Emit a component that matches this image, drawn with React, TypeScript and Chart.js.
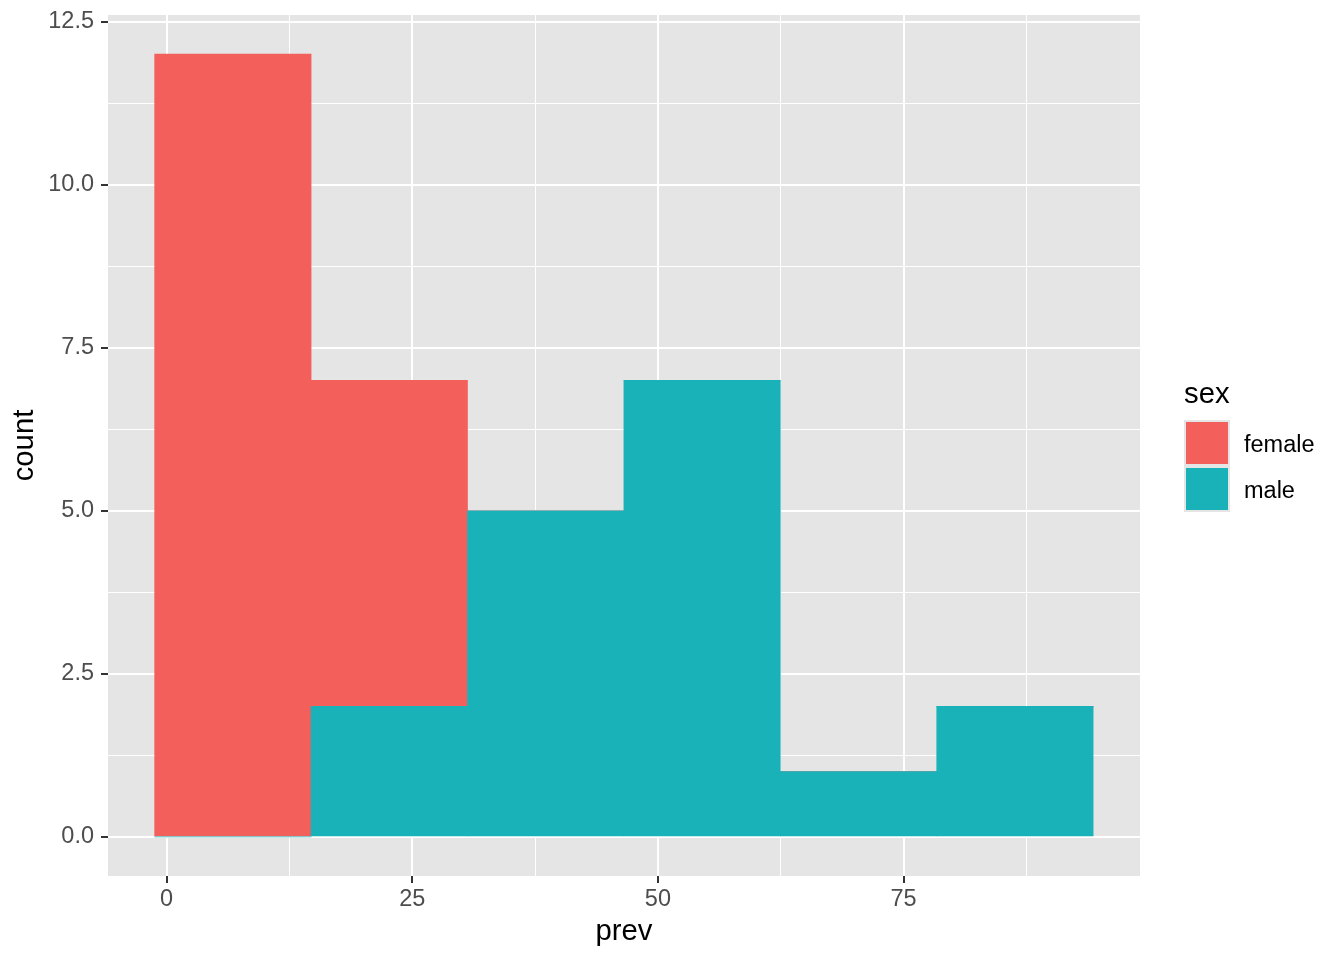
import React, { useEffect, useRef } from "react";
import { Chart, registerables } from "chart.js";

Chart.register(...registerables);

// Histogram of "prev" by sex (stacked counts)
const binCenters = [6.74, 22.66, 38.58, 54.5, 70.42, 86.34];
const femaleCounts = [12, 5, 0, 0, 0, 0];
const maleCounts = [0, 2, 5, 7, 1, 2];
const seriesNames = ["female", "male"];
const xTickValues = [0, 12.5, 25, 37.5, 50, 62.5, 75, 87.5];
const yTickValues = [0, 1.25, 2.5, 3.75, 5, 6.25, 7.5, 8.75, 10, 11.25, 12.5];

const FEMALE = "#F35F5A";
const MALE = "#19B2B8";
const PANEL = "#E5E5E5";
const TICK_TEXT = "#4D4D4D";
const FONT = "'Liberation Sans', Arial, Helvetica, sans-serif";

const isMajorX = (v: number) => Math.abs(v % 25) < 1e-9;
const isMajorY = (v: number) => Math.abs(v % 2.5) < 1e-9;
const tickVal = (c: any) => (c && c.tick ? Number(c.tick.value) : NaN);

const ggPlugin = {
  id: "ggDecor",
  beforeDraw(chart: any) {
    const { ctx, chartArea } = chart;
    ctx.save();
    ctx.fillStyle = "#FFFFFF";
    ctx.fillRect(0, 0, chart.width, chart.height);
    ctx.fillStyle = PANEL;
    ctx.fillRect(chartArea.left, chartArea.top, chartArea.right - chartArea.left, chartArea.bottom - chartArea.top);
    ctx.restore();
  },
  afterDraw(chart: any) {
    const { ctx, chartArea } = chart;
    ctx.save();
    ctx.fillStyle = "#000000";
    ctx.font = `29.3px ${FONT}`;
    ctx.textAlign = "center";
    ctx.textBaseline = "alphabetic";
    ctx.fillText("prev", (chartArea.left + chartArea.right) / 2, 940);
    ctx.save();
    ctx.translate(33, (chartArea.top + chartArea.bottom) / 2);
    ctx.rotate(-Math.PI / 2);
    ctx.fillText("count", 0, 0);
    ctx.restore();
    ctx.textAlign = "left";
    ctx.fillText("sex", 1184, 403);
    const colors = [FEMALE, MALE];
    ctx.fillStyle = PANEL;
    ctx.fillRect(1184, 420, 46, 92);
    seriesNames.forEach((name, i) => {
      const top = 420 + i * 46;
      ctx.fillStyle = colors[i];
      ctx.fillRect(1186, top + 2, 42, 42);
      ctx.fillStyle = "#000000";
      ctx.font = `23.5px ${FONT}`;
      ctx.fillText(name, 1244, 452 + i * 46);
    });
    ctx.restore();
  },
};

export default function App() {
  const ref = useRef<HTMLCanvasElement | null>(null);
  useEffect(() => {
    if (!ref.current) return;
    const barStyle = {
      borderWidth: 0,
      barPercentage: 1,
      categoryPercentage: 1,
      barThickness: "flex",
    };
    const chart = new Chart(ref.current, {
      type: "bar",
      data: {
        datasets: [
          {
            label: seriesNames[1],
            data: binCenters.map((x, i) => ({ x, y: maleCounts[i] })),
            backgroundColor: MALE,
            ...barStyle,
          },
          {
            label: seriesNames[0],
            data: binCenters.map((x, i) => ({ x, y: femaleCounts[i] })),
            backgroundColor: FEMALE,
            ...barStyle,
          },
        ],
      },
      options: {
        responsive: false,
        animation: false,
        devicePixelRatio: 1,
        layout: { padding: { top: 15, right: 204, bottom: 0, left: 0 } },
        plugins: { legend: { display: false }, tooltip: { enabled: false } },
        scales: {
          x: {
            type: "linear",
            stacked: true,
            offset: false,
            min: -5.97,
            max: 99.07,
            afterBuildTicks: (scale: any) => {
              scale.ticks = xTickValues.map((v) => ({ value: v }));
            },
            afterFit: (scale: any) => {
              scale.height = 84;
              scale.paddingLeft = 0;
              scale.paddingRight = 0;
            },
            border: { display: false },
            grid: {
              offset: false,
              color: "#FFFFFF",
              lineWidth: (c: any) => (isMajorX(tickVal(c)) ? 2 : 1),
              tickColor: (c: any) => (isMajorX(tickVal(c)) ? "#333333" : "rgba(0,0,0,0)"),
              tickWidth: 2,
              tickLength: 7,
            },
            ticks: {
              autoSkip: false,
              maxRotation: 0,
              padding: 2,
              color: TICK_TEXT,
              font: { family: FONT, size: 23.5 },
              callback: (v: any) => (isMajorX(Number(v)) ? String(v) : ""),
            },
          },
          y: {
            type: "linear",
            stacked: true,
            min: -0.6,
            max: 12.6,
            afterBuildTicks: (scale: any) => {
              scale.ticks = yTickValues.map((v) => ({ value: v }));
            },
            afterFit: (scale: any) => {
              scale.width = 108;
              scale.paddingTop = 0;
              scale.paddingBottom = 0;
            },
            border: { display: false },
            grid: {
              color: "#FFFFFF",
              lineWidth: (c: any) => (isMajorY(tickVal(c)) ? 2 : 1),
              tickColor: (c: any) => (isMajorY(tickVal(c)) ? "#333333" : "rgba(0,0,0,0)"),
              tickWidth: 2,
              tickLength: 7,
            },
            ticks: {
              autoSkip: false,
              padding: 7,
              color: TICK_TEXT,
              font: { family: FONT, size: 23.5 },
              callback: (v: any) => (isMajorY(Number(v)) ? Number(v).toFixed(1) : ""),
            },
          },
        },
      } as any,
      plugins: [ggPlugin],
    });
    return () => chart.destroy();
  }, []);
  return (
    <div style={{ position: "absolute", left: 0, top: 0, width: 1344, height: 960 }}>
      <canvas ref={ref} width={1344} height={960} style={{ width: 1344, height: 960, display: "block" }} />
    </div>
  );
}
